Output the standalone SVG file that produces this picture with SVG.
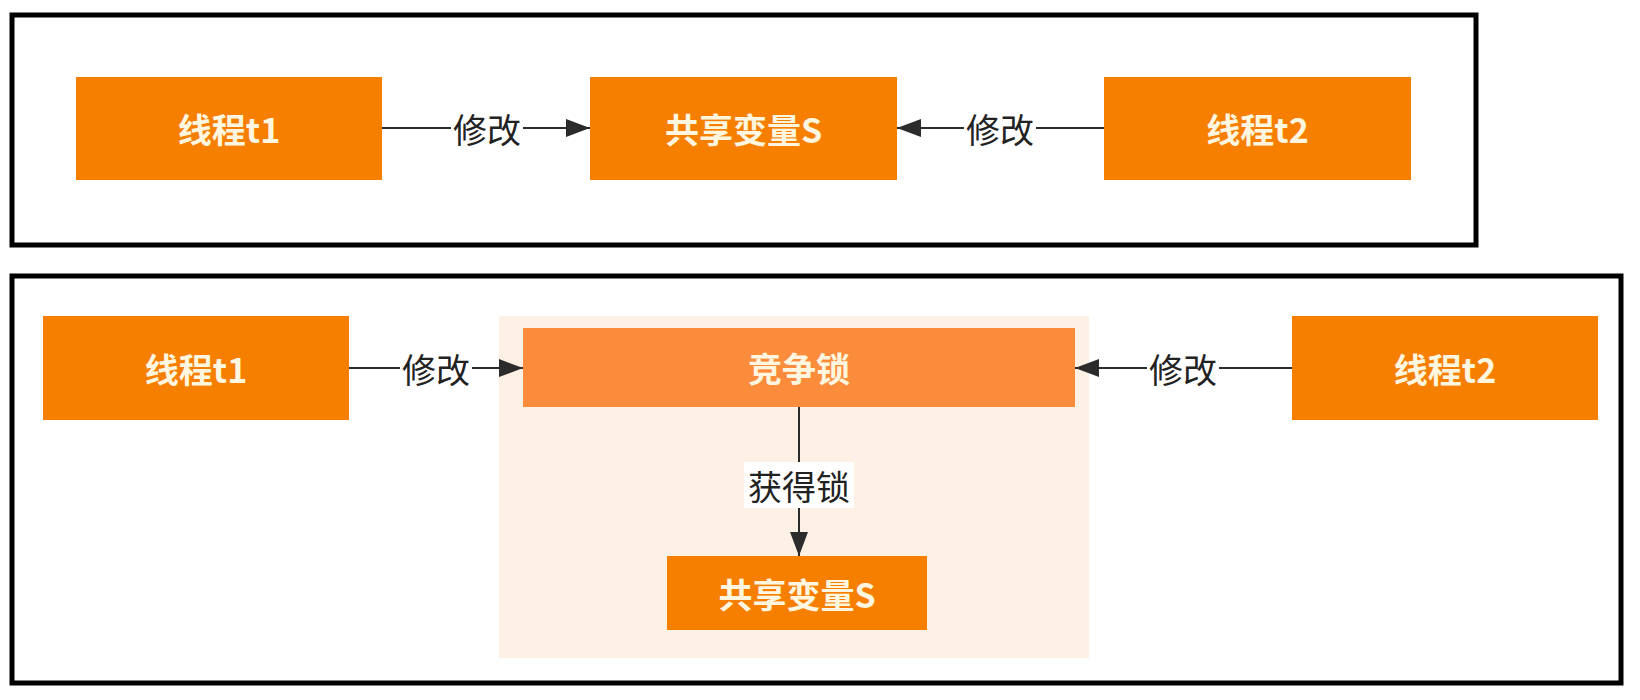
<svg xmlns="http://www.w3.org/2000/svg" width="1640" height="700" viewBox="0 0 1640 700">
  <defs>
    <marker id="arrow" markerUnits="userSpaceOnUse" markerWidth="26" markerHeight="18" refX="24" refY="9" orient="auto">
      <path d="M0,0 L24,9 L0,18 Z" fill="#2b2b2b"/>
    </marker>
    <style>
      .frame { fill: #ffffff; stroke: #000000; stroke-width: 5; }
      .node { fill: #f77f00; }
      .lock { fill: #fa8c3c; }
      .group { fill: #fdf1e6; }
      .ntext { font-family: "Noto Sans CJK SC", "Noto Sans", sans-serif; font-size: 34px; font-weight: bold; fill: #fff6e0; text-anchor: middle; dominant-baseline: central; }
      .edge { stroke: #2b2b2b; stroke-width: 2; fill: none; }
      .lbg { fill: #ffffff; }
      .ltext { font-family: "Noto Sans CJK SC", "Noto Sans", sans-serif; font-size: 34px; fill: #222222; text-anchor: middle; dominant-baseline: central; }
    </style>
  </defs>
  <rect width="1640" height="700" fill="#ffffff"/>

  <g id="frame-top"><rect class="frame" x="12" y="15" width="1464" height="230"/></g>
  <g id="frame-bottom"><rect class="frame" x="12" y="276" width="1609" height="407"/></g>

  <g id="lock-group"><rect class="group" x="499" y="316" width="590" height="342"/></g>

  <g id="top-t1"><rect class="node" x="76" y="77" width="306" height="103"/><text class="ntext" x="229" y="128">线程t1</text></g>
  <g id="top-s"><rect class="node" x="590" y="77" width="307" height="103"/><text class="ntext" x="743.5" y="128">共享变量S</text></g>
  <g id="top-t2"><rect class="node" x="1104" y="77" width="307" height="103"/><text class="ntext" x="1257.5" y="128">线程t2</text></g>

  <g id="bot-t1"><rect class="node" x="43" y="316" width="306" height="104"/><text class="ntext" x="196" y="368">线程t1</text></g>
  <g id="bot-lock"><rect class="lock" x="523" y="328" width="552" height="79"/><text class="ntext" x="799" y="367.5">竞争锁</text></g>
  <g id="bot-t2"><rect class="node" x="1292" y="316" width="306" height="104"/><text class="ntext" x="1445" y="368">线程t2</text></g>
  <g id="bot-s"><rect class="node" x="667" y="556" width="260" height="74"/><text class="ntext" x="797" y="593">共享变量S</text></g>

  <g id="connectors">
    <line class="edge" x1="382" y1="128" x2="590" y2="128" marker-end="url(#arrow)"/>
    <rect class="lbg" x="451" y="108" width="72" height="40"/>
    <text class="ltext" x="487" y="128">修改</text>

    <line class="edge" x1="1104" y1="128" x2="897" y2="128" marker-end="url(#arrow)"/>
    <rect class="lbg" x="964" y="108" width="72" height="40"/>
    <text class="ltext" x="1000" y="128">修改</text>

    <line class="edge" x1="349" y1="368" x2="523" y2="368" marker-end="url(#arrow)"/>
    <rect class="lbg" x="400" y="348" width="72" height="40"/>
    <text class="ltext" x="436" y="368">修改</text>

    <line class="edge" x1="1292" y1="368" x2="1075" y2="368" marker-end="url(#arrow)"/>
    <rect class="lbg" x="1147" y="348" width="72" height="40"/>
    <text class="ltext" x="1183" y="368">修改</text>

    <line class="edge" x1="799" y1="407" x2="799" y2="556" marker-end="url(#arrow)"/>
    <rect class="lbg" x="744" y="462" width="110" height="46"/>
    <text class="ltext" x="799" y="485">获得锁</text>
  </g>
</svg>
